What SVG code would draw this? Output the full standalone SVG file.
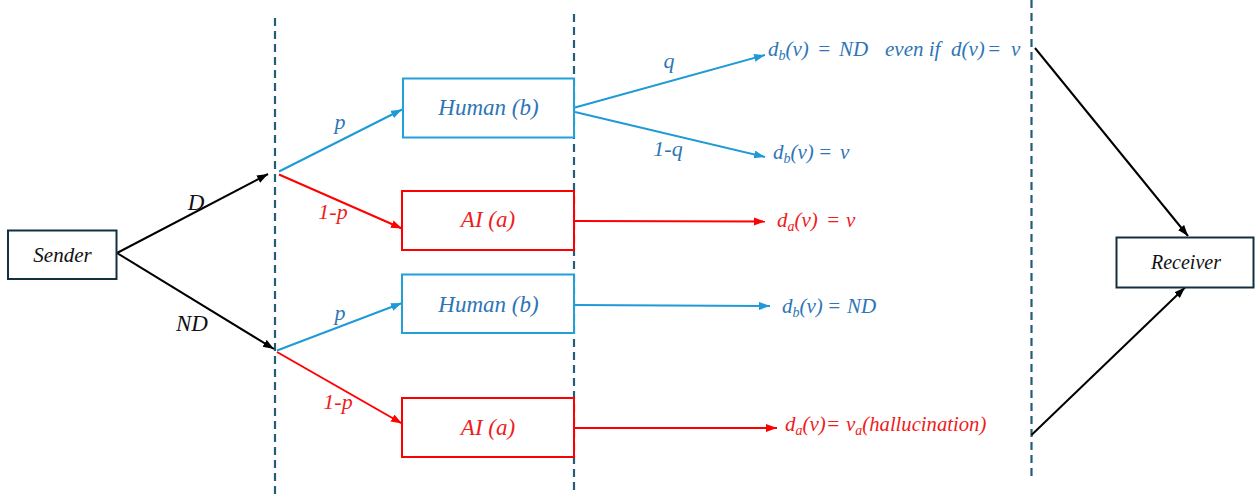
<svg xmlns="http://www.w3.org/2000/svg" width="1258" height="503" viewBox="0 0 1258 503">
<style>
  text { font-family: "Liberation Serif", "DejaVu Serif", serif; font-style: italic; }
  .guide { stroke: #235d78; stroke-width: 2.2; stroke-dasharray: 8 5; fill: none; }
  .blk { stroke: #000; stroke-width: 2; fill: none; }
  .blu { stroke: #1f9ad6; stroke-width: 2; fill: none; }
  .red { stroke: #ff0000; stroke-width: 2; fill: none; }
  .boxk { fill: #fff; stroke: #12303f; stroke-width: 2; }
  .boxb { fill: #fff; stroke: #22a0d8; stroke-width: 2; }
  .boxr { fill: #fff; stroke: #ff0000; stroke-width: 2; }
  .tk { fill: #111; }
  .tb { fill: #2e75b6; }
  .tr { fill: #ee1c1c; }
  .node { font-size: 23px; text-anchor: middle; }
  .lab { font-size: 21px; }
  .sub { font-size: 14px; }
</style>
<defs>
  <marker id="ak" markerUnits="userSpaceOnUse" markerWidth="12" markerHeight="10" refX="11" refY="4" orient="auto"><path d="M0,0 L11,4 L0,8 Z" fill="#000"/></marker>
  <marker id="ab" markerUnits="userSpaceOnUse" markerWidth="12" markerHeight="10" refX="11" refY="4" orient="auto"><path d="M0,0 L11,4 L0,8 Z" fill="#1f9ad6"/></marker>
  <marker id="ar" markerUnits="userSpaceOnUse" markerWidth="12" markerHeight="10" refX="11" refY="4" orient="auto"><path d="M0,0 L11,4 L0,8 Z" fill="#ff0000"/></marker>
</defs>

<g id="guides">
  <line class="guide" x1="275" y1="18" x2="275" y2="498"/>
  <line class="guide" x1="574" y1="14" x2="574" y2="494"/>
  <line class="guide" x1="1031.5" y1="0" x2="1031.5" y2="478"/>
</g>

<g id="connectors">
  <line class="blk" x1="117" y1="253" x2="268" y2="174" marker-end="url(#ak)"/>
  <line class="blk" x1="117" y1="253" x2="274" y2="349" marker-end="url(#ak)"/>
  <line class="blu" x1="279" y1="171.5" x2="402" y2="109.5" marker-end="url(#ab)"/>
  <line class="red" x1="279" y1="174.5" x2="402" y2="228.5" marker-end="url(#ar)"/>
  <line class="blu" x1="277" y1="350.5" x2="402" y2="303" marker-end="url(#ab)"/>
  <line class="red" x1="277" y1="352" x2="402" y2="423.5" marker-end="url(#ar)"/>
  <line class="blu" x1="575" y1="107.5" x2="765" y2="55" marker-end="url(#ab)"/>
  <line class="blu" x1="575" y1="112" x2="765" y2="157" marker-end="url(#ab)"/>
  <line class="red" x1="575" y1="221" x2="765" y2="221.5" marker-end="url(#ar)"/>
  <line class="blu" x1="575" y1="305" x2="770" y2="306" marker-end="url(#ab)"/>
  <line class="red" x1="575" y1="428" x2="777" y2="428" marker-end="url(#ar)"/>
  <line class="blk" x1="1035" y1="48" x2="1188" y2="236" marker-end="url(#ak)"/>
  <line class="blk" x1="1031.5" y1="435" x2="1185" y2="287.5" marker-end="url(#ak)"/>
  <text class="tk" x="196" y="210" font-size="23" text-anchor="middle">D</text>
  <text class="tk" x="192" y="331" font-size="23" text-anchor="middle">ND</text>
  <text class="tb" x="340" y="129" font-size="22" text-anchor="middle">p</text>
  <text class="tr" x="333" y="219" font-size="22" text-anchor="middle">1-p</text>
  <text class="tb" x="340" y="320" font-size="22" text-anchor="middle">p</text>
  <text class="tr" x="338" y="409" font-size="22" text-anchor="middle">1-p</text>
  <text class="tb" x="669" y="68" font-size="22" text-anchor="middle">q</text>
  <text class="tb" x="668" y="156" font-size="22" text-anchor="middle">1-q</text>
</g>

<g id="sender">
  <rect class="boxk" x="8" y="230.5" width="108.5" height="48.5"/>
  <text class="tk" x="62.5" y="262" font-size="21" text-anchor="middle">Sender</text>
</g>

<g id="human-top">
  <rect class="boxb" x="403" y="78.5" width="171" height="59"/>
  <text class="tb node" x="488.5" y="115">Human (b)</text>
</g>

<g id="ai-top">
  <rect class="boxr" x="402" y="191" width="172" height="59"/>
  <text class="tr node" x="488" y="227">AI (a)</text>
</g>

<g id="human-bottom">
  <rect class="boxb" x="402" y="274.5" width="172" height="58.5"/>
  <text class="tb node" x="488.5" y="311.5">Human (b)</text>
</g>

<g id="ai-bottom">
  <rect class="boxr" x="402" y="398" width="172" height="59"/>
  <text class="tr node" x="488" y="435">AI (a)</text>
</g>

<g id="receiver">
  <rect class="boxk" x="1116.5" y="237.5" width="137" height="50"/>
  <text class="tk" x="1186" y="269" font-size="20" text-anchor="middle">Receiver</text>
</g>

<g id="outcome-1">
  <text class="tb lab" x="768" y="56">d<tspan class="sub" dy="4">b</tspan><tspan dy="-4">(v)</tspan><tspan x="817">=</tspan><tspan x="839">ND</tspan><tspan x="885">even if</tspan><tspan x="951">d(v)</tspan><tspan x="987">=</tspan><tspan x="1011">v</tspan></text>
</g>
<g id="outcome-2">
  <text class="tb lab" x="773" y="159">d<tspan class="sub" dy="4">b</tspan><tspan dy="-4">(v)</tspan><tspan x="818">=</tspan><tspan x="840">v</tspan></text>
</g>
<g id="outcome-3">
  <text class="tr lab" x="777" y="227">d<tspan class="sub" dy="4">a</tspan><tspan dy="-4">(v)</tspan><tspan x="826">=</tspan><tspan x="846">v</tspan></text>
</g>
<g id="outcome-4">
  <text class="tb lab" x="782" y="313">d<tspan class="sub" dy="4">b</tspan><tspan dy="-4">(v)</tspan><tspan x="827">=</tspan><tspan x="847">ND</tspan></text>
</g>
<g id="outcome-5">
  <text class="tr lab" x="785" y="431">d<tspan class="sub" dy="4">a</tspan><tspan dy="-4">(v)</tspan><tspan x="826">=</tspan><tspan x="846">v</tspan><tspan class="sub" dy="4">a</tspan><tspan dy="-4" textLength="124" lengthAdjust="spacingAndGlyphs">(hallucination)</tspan></text>
</g>
</svg>
